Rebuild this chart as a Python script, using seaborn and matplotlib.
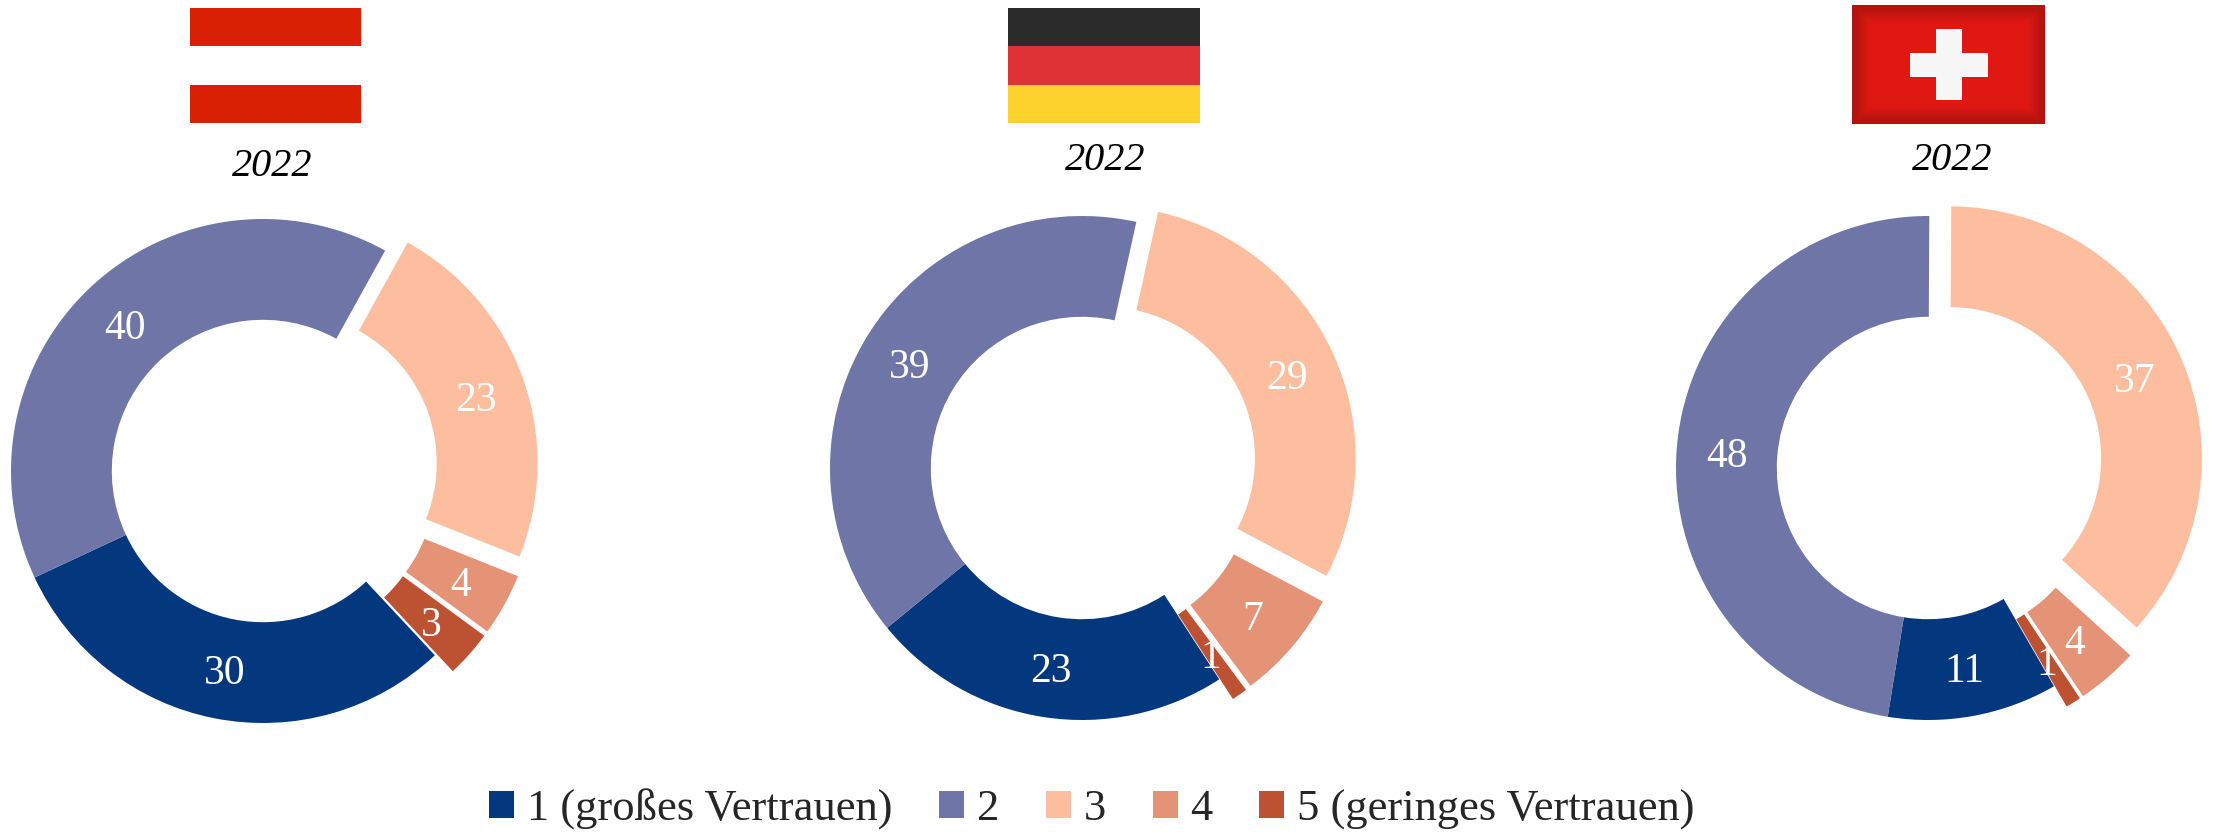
import numpy as np
import matplotlib
matplotlib.use("Agg")
import matplotlib.pyplot as plt
from matplotlib.patches import Rectangle, Patch
import seaborn as sns

categories = ["1 (großes Vertrauen)", "2", "3", "4", "5 (geringes Vertrauen)"]
austria = [30, 40, 23, 4, 3]
germany = [23, 39, 29, 7, 1]
switzerland = [11, 48, 37, 4, 1]
year_label = "2022"
colours = ["#03387e", "#6f75a7", "#fdbea0", "#e59376", "#bc5232"]

sns.set_theme(style="white")
plt.rcParams["font.family"] = ["Liberation Serif", "DejaVu Serif"]
palette = sns.color_palette(colours)

W, H = 2215, 835
fig = plt.figure(figsize=(W / 100, H / 100), dpi=100, facecolor="white")
explode = [0, 0, 0.095, 0.095, 0.095]
R = 252
LIM = 1.15


def donut(values, cx, cy, start):
    half = R * LIM
    ax = fig.add_axes([(cx - half) / W, 1 - (cy + half) / H, 2 * half / W, 2 * half / H])
    wedges, _, autos = ax.pie(
        values, colors=palette, explode=explode, startangle=start, counterclock=False,
        radius=1, autopct="%d", pctdistance=0.8,
        wedgeprops=dict(width=0.4, linewidth=0),
    )
    for t, v in zip(autos, values):
        t.set_text(str(v))
        t.set_color("white")
        t.set_fontsize(30)
        x, y = t.get_position()
        t.set_position((x, y - 5 / R))
    ax.set_xlim(-LIM, LIM)
    ax.set_ylim(-LIM, LIM)
    ax.set_aspect("equal")
    ax.axis("off")
    ax.patch.set_alpha(0)
    return wedges


wedges = donut(austria, 263, 471, -47)
donut(germany, 1082, 468, -57)
donut(switzerland, 1928, 468, -60)

# Overlay in pixel coordinates for the flags
ov = fig.add_axes([0, 0, 1, 1], facecolor="none")
ov.set_axis_off()


def stripes(x0, x1, y0, y1, cols):
    h = (y1 - y0) / len(cols)
    for i, c in enumerate(cols):
        ov.add_patch(Rectangle((x0, y0 + i * h), x1 - x0, h, facecolor=c, edgecolor="none"))


stripes(190, 361, 8, 123, ["#d92005", "#ffffff", "#d92005"])
stripes(1008, 1200, 8, 123, ["#2b2b2b", "#de3237", "#fed22c"])

# Swiss flag with darkened rim
fw, fh = 193, 119
yy, xx = np.mgrid[0:fh, 0:fw]
edge = np.minimum.reduce([xx, fw - 1 - xx, yy, fh - 1 - yy]) / 20.0
edge = np.clip(edge, 0, 1)
shade = 0.80 + 0.20 * edge * edge * (3 - 2 * edge)
base = np.array(matplotlib.colors.to_rgb("#e01813"))
ov.imshow(shade[..., None] * base, extent=(1852, 2045, 124, 5), aspect="auto",
          interpolation="bilinear", zorder=1)
ov.add_patch(Rectangle((1936, 29), 26, 71, facecolor="#f7f7f7", edgecolor="none", zorder=2))
ov.add_patch(Rectangle((1910, 53), 78, 24, facecolor="#f7f7f7", edgecolor="none", zorder=2))
ov.set_xlim(0, W)
ov.set_ylim(H, 0)

for x, y in [(272, 167), (1105, 161), (1952, 161)]:
    ov.text(x, y, year_label, ha="center", va="center", style="italic",
            fontsize=29, color="black")

handles = [Patch(facecolor=c, edgecolor="none") for c in palette]
fig.legend(
    handles, categories, ncol=5, loc="center", bbox_to_anchor=(1092 / W, 1 - 809 / H),
    frameon=False, fontsize=32, labelcolor="#262626", handlelength=0.56, handleheight=0.56,
    handletextpad=0.29, columnspacing=1.05, borderpad=0, borderaxespad=0,
)

fig.savefig("out.png", dpi=100, facecolor="white")
